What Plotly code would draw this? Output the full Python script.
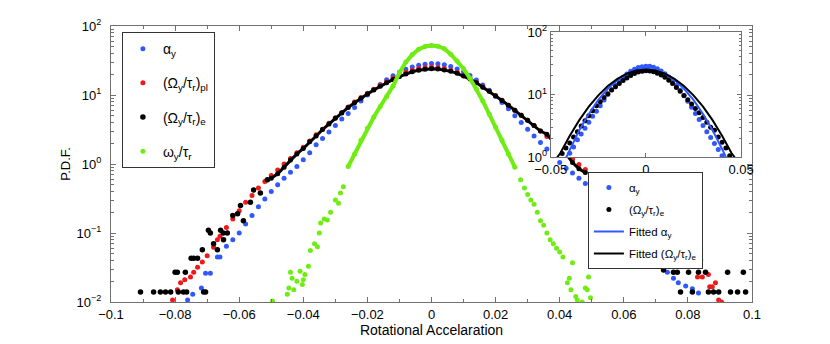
import plotly.graph_objects as go

# alpha_y (blue markers)
alpha_x = [-0.0761, -0.0745, -0.0718, -0.0705, -0.069, -0.0668, -0.066, -0.064, -0.062, -0.060,
           -0.058, -0.056, -0.054, -0.052, -0.050,
           -0.048, -0.046, -0.044, -0.042, -0.040, -0.038, -0.036, -0.034, -0.032, -0.030,
           -0.028, -0.026, -0.024, -0.022, -0.020, -0.018, -0.016, -0.014, -0.012, -0.010,
           -0.008, -0.006, -0.004, -0.002, 0.000, 0.002, 0.004, 0.006, 0.008, 0.010,
           0.012, 0.014, 0.016, 0.018, 0.020, 0.022, 0.024, 0.026, 0.028, 0.030,
           0.032, 0.034, 0.036, 0.038, 0.040, 0.042, 0.044, 0.046, 0.048,
           0.050, 0.053, 0.056, 0.059, 0.062, 0.065, 0.068, 0.0705,
           0.0736, 0.0755, 0.077, 0.0793, 0.0814, 0.0833]
alpha_y = [0.0107, 0.013, 0.016, 0.026, 0.026, 0.045, 0.045, 0.064, 0.08, 0.10,
           0.135, 0.18, 0.24, 0.31, 0.40,
           0.50, 0.62, 0.76, 0.92, 1.15, 1.45, 1.9, 2.35, 2.9, 3.6,
           4.5, 5.4, 6.6, 8.2, 10.0, 12.0, 14.2, 16.6, 19.0, 21.4,
           23.6, 25.5, 27.0, 28.0, 28.5, 28.3, 27.4, 25.9, 23.9, 21.6,
           19.1, 16.5, 14.0, 11.7, 9.6, 7.8, 6.3, 5.0, 4.0, 3.2,
           2.55, 2.05, 1.65, 1.32, 1.05, 0.87, 0.74, 0.62, 0.52,
           0.44, 0.35, 0.26, 0.19, 0.13, 0.09, 0.06, 0.045,
           0.027, 0.022, 0.019, 0.017, 0.0155, 0.0135]

# (Omega_y/tau_r)_pl (red markers)
pl_x = [-0.0808, -0.0793, -0.0783, -0.077, -0.0752, -0.0742, -0.073, -0.0715, -0.070, -0.068,
        -0.0668, -0.066, -0.064, -0.062, -0.060, -0.058, -0.056, -0.054, -0.052, -0.050,
        -0.048, -0.046, -0.044, -0.042, -0.040, -0.038, -0.036, -0.034, -0.032, -0.030,
        -0.028, -0.026, -0.024, -0.022, -0.020, -0.018, -0.016, -0.014, -0.012, -0.010,
        -0.008, -0.006, -0.004, -0.002, 0.000, 0.002, 0.004, 0.006, 0.008, 0.010,
        0.012, 0.014, 0.016, 0.018, 0.020, 0.022, 0.024, 0.026, 0.028, 0.030,
        0.032, 0.034, 0.036, 0.038, 0.040, 0.042, 0.044, 0.046, 0.048,
        0.050, 0.053, 0.056, 0.059, 0.062, 0.065, 0.068, 0.071, 0.074, 0.0765, 0.079,
        0.0814, 0.083, 0.0845, 0.0864, 0.0868, 0.0876, 0.0886, 0.0896, 0.0905]
pl_y = [0.0107, 0.015, 0.019, 0.021, 0.023, 0.027, 0.032, 0.038, 0.047, 0.062,
        0.08, 0.09, 0.12, 0.16, 0.21, 0.28, 0.35, 0.45, 0.56, 0.68,
        0.82, 1.0, 1.2, 1.45, 1.75, 2.15, 2.65, 3.2, 3.9, 4.7,
        5.6, 6.7, 7.9, 9.2, 10.6, 12.1, 13.8, 15.6, 17.6, 19.5,
        21.3, 22.9, 24.2, 25.0, 25.4, 25.0, 24.2, 22.9, 21.3, 19.4,
        17.3, 15.2, 13.2, 11.4, 9.8, 8.4, 7.1, 6.0, 5.1, 4.3,
        3.6, 3.0, 2.5, 2.05, 1.7, 1.4, 1.17, 0.98, 0.83,
        0.70, 0.55, 0.42, 0.32, 0.24, 0.17, 0.12, 0.085, 0.06, 0.047, 0.04,
        0.038, 0.023, 0.023, 0.025, 0.0166, 0.0166, 0.019, 0.0107, 0.0100]

# (Omega_y/tau_r)_e (black markers): dense core and scattered tails
e_core_x = [-0.050, -0.048, -0.046, -0.044, -0.042, -0.040, -0.038, -0.036, -0.034, -0.032,
            -0.030, -0.028, -0.026, -0.024, -0.022, -0.020, -0.018, -0.016, -0.014, -0.012,
            -0.010, -0.008, -0.006, -0.004, -0.002, 0.000, 0.002, 0.004, 0.006, 0.008,
            0.010, 0.012, 0.014, 0.016, 0.018, 0.020, 0.022, 0.024, 0.026, 0.028,
            0.030, 0.032, 0.034, 0.036, 0.038, 0.040, 0.042, 0.044, 0.046, 0.048]
e_core_y = [0.62, 0.72, 0.90, 1.14, 1.40, 1.68, 2.1, 2.55, 3.15, 3.8,
            4.6, 5.5, 6.6, 7.7, 9.0, 10.3, 11.8, 13.4, 15.0, 16.8,
            18.5, 20.2, 21.7, 22.9, 23.7, 24.0, 23.8, 23.1, 22.0, 20.6,
            18.9, 17.0, 15.0, 13.0, 11.3, 9.7, 8.3, 7.1, 6.0, 5.1,
            4.3, 3.6, 3.0, 2.7, 2.1, 1.72, 1.4, 1.05, 0.85, 0.75]
e_tail_x = [-0.0908, -0.0867, -0.0846, -0.083, -0.0814, -0.0800, -0.0793, -0.079, -0.0774, -0.0768,
            -0.0764, -0.0750, -0.0742, -0.0730, -0.0715, -0.0711, -0.0705, -0.0696, -0.0690, -0.0680,
            -0.0668, -0.0658, -0.0650, -0.0649, -0.0637, -0.0620, -0.0605, -0.0596, -0.0587, -0.0565,
            -0.0555, -0.0534, -0.0512,
            0.050, 0.053, 0.056, 0.059, 0.062, 0.065, 0.068, 0.071,
            0.0724, 0.0740, 0.0755, 0.0767, 0.0777, 0.0802, 0.0814, 0.0833, 0.0839, 0.0855,
            0.0864, 0.0880, 0.0896, 0.0924, 0.0933, 0.0955, 0.0973, 0.0980]
e_tail_y = [0.014, 0.014, 0.014, 0.014, 0.014, 0.027, 0.027, 0.014, 0.014, 0.027,
            0.014, 0.043, 0.043, 0.043, 0.057, 0.014, 0.014, 0.11, 0.10, 0.07,
            0.057, 0.11, 0.10, 0.08, 0.10, 0.18, 0.19, 0.25, 0.15, 0.28,
            0.42, 0.38, 0.59,
            0.62, 0.45, 0.36, 0.27, 0.20, 0.14, 0.10, 0.07,
            0.029, 0.043, 0.027, 0.027, 0.014, 0.027, 0.014, 0.027, 0.041, 0.027,
            0.014, 0.014, 0.014, 0.027, 0.014, 0.014, 0.027, 0.014]

# omega_y/tau_r (green markers): dense core and scattered tails
w_core_x = [-0.026, -0.024, -0.022, -0.020, -0.018, -0.016, -0.014, -0.012, -0.010, -0.008,
            -0.006, -0.004, -0.002, 0.000, 0.002, 0.004, 0.006, 0.008, 0.010, 0.012,
            0.014, 0.016, 0.018, 0.020, 0.022, 0.024, 0.026]
w_core_y = [0.92, 1.4, 2.2, 3.3, 4.8, 6.8, 9.5, 13.5, 21.0, 30.0,
            38.5, 46.0, 50.5, 52.0, 51.0, 47.0, 39.0, 31.0, 24.0, 17.5,
            12.3, 8.2, 5.3, 3.4, 2.2, 1.4, 0.90]
w_tail_x = [-0.0496, -0.0450, -0.0445, -0.0440, -0.0435, -0.0430, -0.0420, -0.0410, -0.0403, -0.0400,
            -0.0395, -0.0384, -0.0378, -0.0365, -0.0356, -0.0350, -0.0346, -0.0335, -0.0325, -0.0315,
            -0.0300, -0.0290, -0.0284, -0.0275,
            0.0278, 0.029, 0.030, 0.031, 0.032, 0.033, 0.034, 0.035, 0.036, 0.037,
            0.038, 0.039, 0.040, 0.041, 0.0424, 0.0430, 0.0435, 0.044, 0.045, 0.0455,
            0.047, 0.048, 0.0486, 0.049, 0.0496]
w_tail_y = [0.0103, 0.013, 0.016, 0.027, 0.022, 0.015, 0.020, 0.028, 0.018, 0.021,
            0.025, 0.033, 0.056, 0.07, 0.063, 0.10, 0.14, 0.16, 0.154, 0.20,
            0.30, 0.27, 0.38, 0.47,
            0.59, 0.45, 0.36, 0.30, 0.26, 0.20, 0.15, 0.13, 0.10, 0.080,
            0.07, 0.06, 0.053, 0.045, 0.019, 0.022, 0.015, 0.037, 0.012, 0.0107,
            0.010, 0.016, 0.015, 0.023, 0.0115]

# fitted curves in the inset
fit_x = [-0.050, -0.045, -0.040, -0.035, -0.030, -0.025, -0.020, -0.015, -0.010, -0.005,
         0.000, 0.005, 0.010, 0.015, 0.020, 0.025, 0.030, 0.035, 0.040, 0.045, 0.050]
fit_alpha_y = [0.3, 0.62, 1.35, 2.7, 4.9, 8.2, 12.4, 17.1, 21.6, 24.8,
               26.0, 24.8, 21.6, 17.1, 12.4, 8.2, 4.9, 2.7, 1.35, 0.62, 0.3]
fit_e_y = [0.72, 1.15, 2.2, 3.9, 6.4, 9.7, 13.7, 17.8, 21.6, 24.2,
           25.1, 24.2, 21.6, 17.8, 13.7, 9.7, 6.4, 3.9, 2.2, 1.15, 0.72]

y_ticks = [0.01, 0.1, 1, 10, 100]
y_ticktext = ['10<sup>−2</sup>', '10<sup>−1</sup>', '10<sup>0</sup>', '10<sup>1</sup>', '10<sup>2</sup>']

BLUE = '#3158ff'
RED = '#f01818'
BLACK = '#000000'
GREEN = '#6fec12'
AXC = '#707070'
FONT = 'Liberation Sans, Arial, sans-serif'

lbl_alpha = 'α<sub>y</sub>'
lbl_pl = '(Ω<sub>y</sub>/τ<sub>r</sub>)<sub>pl</sub>'
lbl_e = '(Ω<sub>y</sub>/τ<sub>r</sub>)<sub>e</sub>'
lbl_w = 'ω<sub>y</sub>/τ<sub>r</sub>'

fig = go.Figure()

fig.add_trace(go.Scatter(x=alpha_x, y=alpha_y, mode='markers', name=lbl_alpha,
                         marker=dict(color=BLUE, size=5), legendgroup='a', legend='legend'))
fig.add_trace(go.Scatter(x=pl_x, y=pl_y, mode='markers', name=lbl_pl,
                         marker=dict(color=RED, size=5), legendgroup='p', legend='legend'))
fig.add_trace(go.Scatter(x=e_core_x, y=e_core_y, mode='lines+markers', showlegend=False,
                         line=dict(color=BLACK, width=3), marker=dict(color=BLACK, size=5),
                         legendgroup='e'))
fig.add_trace(go.Scatter(x=e_tail_x, y=e_tail_y, mode='markers', name=lbl_e,
                         marker=dict(color=BLACK, size=5.5), legendgroup='e', legend='legend'))
fig.add_trace(go.Scatter(x=w_core_x, y=w_core_y, mode='lines+markers', showlegend=False,
                         line=dict(color=GREEN, width=4), marker=dict(color=GREEN, size=5),
                         legendgroup='w'))
fig.add_trace(go.Scatter(x=w_tail_x, y=w_tail_y, mode='markers', name=lbl_w,
                         marker=dict(color=GREEN, size=5), legendgroup='w', legend='legend'))

# inset
fig.add_trace(go.Scatter(x=alpha_x, y=alpha_y, mode='markers', name=lbl_alpha, xaxis='x2', yaxis='y2',
                         marker=dict(color=BLUE, size=5), legendgroup='ia', legend='legend2'))
fig.add_trace(go.Scatter(x=e_core_x + e_tail_x, y=e_core_y + e_tail_y, mode='markers', name=lbl_e,
                         xaxis='x2', yaxis='y2',
                         marker=dict(color=BLACK, size=5), legendgroup='ie', legend='legend2'))
fig.add_trace(go.Scatter(x=fit_x, y=fit_alpha_y, mode='lines', name='Fitted ' + lbl_alpha,
                         xaxis='x2', yaxis='y2', line=dict(color=BLUE, width=2),
                         legendgroup='ifa', legend='legend2'))
fig.add_trace(go.Scatter(x=fit_x, y=fit_e_y, mode='lines', name='Fitted ' + lbl_e,
                         xaxis='x2', yaxis='y2', line=dict(color=BLACK, width=2),
                         legendgroup='ife', legend='legend2'))

minor_log = [m * 10 ** e for e in range(-2, 2) for m in range(2, 10)]

axis_common = dict(showline=True, linecolor=AXC, linewidth=1, mirror='allticks', ticks='inside',
                   tickcolor=AXC, showgrid=False, zeroline=False, automargin=False,
                   tickfont=dict(family=FONT, size=13, color='black'))

# the page body adds an 8px offset, so the figure is drawn 8px smaller than the window
fig.update_layout(
    width=822, height=336,
    margin=dict(l=103, r=78, t=18, b=42),
    paper_bgcolor='white', plot_bgcolor='white',
    font=dict(family=FONT, size=13, color='black'),
    xaxis=dict(domain=[0, 1], range=[-0.1, 0.1], dtick=0.02, ticklen=5,
               minor=dict(ticks='inside', ticklen=3, dtick=0.01, tickcolor=AXC),
               title=dict(text='Rotational Accelaration', font=dict(size=14), standoff=0),
               **axis_common),
    yaxis=dict(type='log', range=[-2, 2], tickmode='array', tickvals=y_ticks, ticktext=y_ticktext,
               ticklen=5, ticklabelstandoff=6,
               minor=dict(ticks='inside', ticklen=3, tickmode='array', tickvals=minor_log, tickcolor=AXC),
               title=dict(text='P.D.F.', font=dict(size=13), standoff=3),
               **axis_common),
    xaxis2=dict(domain=[0.686, 0.983], anchor='y2', range=[-0.05, 0.05],
                tickmode='array', tickvals=[-0.05, 0, 0.05], ticklen=4,
                **axis_common),
    yaxis2=dict(domain=[0.525, 0.978], anchor='x2', type='log', range=[0, 2],
                tickmode='array', tickvals=[1, 10, 100],
                ticktext=['10<sup>0</sup>', '10<sup>1</sup>', '10<sup>2</sup>'], ticklen=4,
                minor=dict(ticks='inside', ticklen=2, tickmode='array',
                           tickvals=[m * 10 ** e for e in range(0, 2) for m in range(2, 10)], tickcolor=AXC),
                **axis_common),
    legend=dict(x=0.017, y=0.978, xanchor='left', yanchor='top', bgcolor='white',
                bordercolor='#333', borderwidth=1, font=dict(size=14), tracegroupgap=13,
                itemwidth=30),
    legend2=dict(x=0.744, y=0.471, xanchor='left', yanchor='top', bgcolor='white',
                 bordercolor='#333', borderwidth=1, font=dict(size=11.5), tracegroupgap=3,
                 itemwidth=30),
    shapes=[dict(type='rect', xref='x2', yref='y2', x0=-0.05, x1=0.05, y0=1, y1=100,
                 fillcolor='white', line=dict(width=0), layer='below')],
)

fig.write_html("out.html")
